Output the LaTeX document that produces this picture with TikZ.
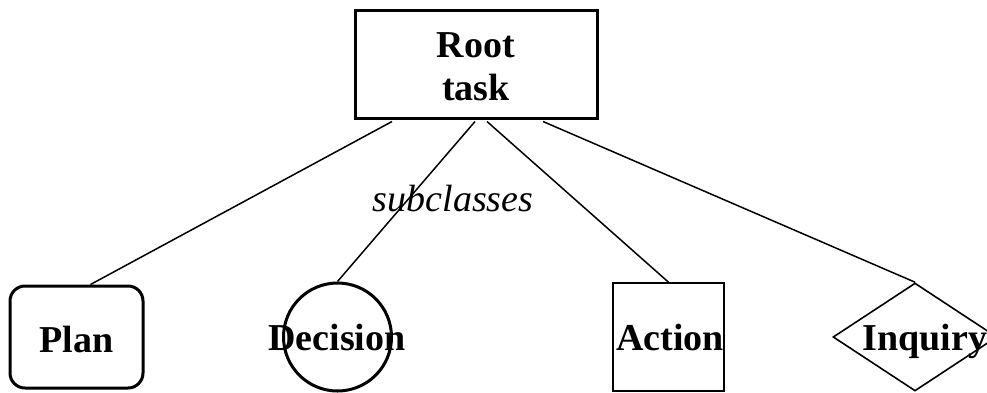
\documentclass[tikz,border=0pt]{standalone}
\usepackage{fontspec}
\setmainfont{Liberation Serif}
\usetikzlibrary{shapes.geometric,calc}
\begin{document}
\begin{tikzpicture}[x=1pt,y=-1pt,
  lbl/.style={font=\fontsize{38}{43}\selectfont\bfseries, inner sep=0pt, anchor=base},
  thick box/.style={draw, line width=3pt, inner sep=0pt},
  thin box/.style={draw, line width=1.6pt, inner sep=0pt},
  link/.style={line width=1.5pt}]
\useasboundingbox (0,0) rectangle (987,392);

% root class
\node[thick box, minimum width=242pt, minimum height=108pt] (root) at (476,64) {};
\node[lbl] (roottxt) at (476,57) {Root};
\node[lbl] (tasktxt) at (476,100) {task};

% subclasses
\node[thick box, rounded corners=15pt, minimum width=133pt, minimum height=102pt] (plan) at (76.5,337) {};
\node[lbl] (plantxt) at (76.5,352) {Plan};

\node[thick box, circle, minimum size=108pt] (decision) at (337.5,337) {};
\node[lbl] (decisiontxt) at (337,350) {Decision};

\node[thin box, minimum width=111pt, minimum height=108pt] (action) at (668.5,337) {};
\node[lbl] (actiontxt) at (670,350) {Action};

\node[thin box, diamond, minimum width=164pt, minimum height=108pt] (inquiry) at (915,337) {};
\node[lbl] (inquirytxt) at (925,350) {Inquiry};

% edges
\draw[link] ($(root.south)+(-84,2)$) -- ($(plan.north)+(14,0)$);
\draw[link] ($(root.south)+(-1,2)$) -- (decision.north);
\draw[link] ($(root.south)+(11,2)$) -- (action.north);
\draw[link] ($(root.south)+(67,2)$) -- (inquiry.north);

\node[font=\fontsize{38}{43}\selectfont\itshape, inner sep=0pt, anchor=base] (sub) at (453,211) {subclasses};
\end{tikzpicture}
\end{document}
